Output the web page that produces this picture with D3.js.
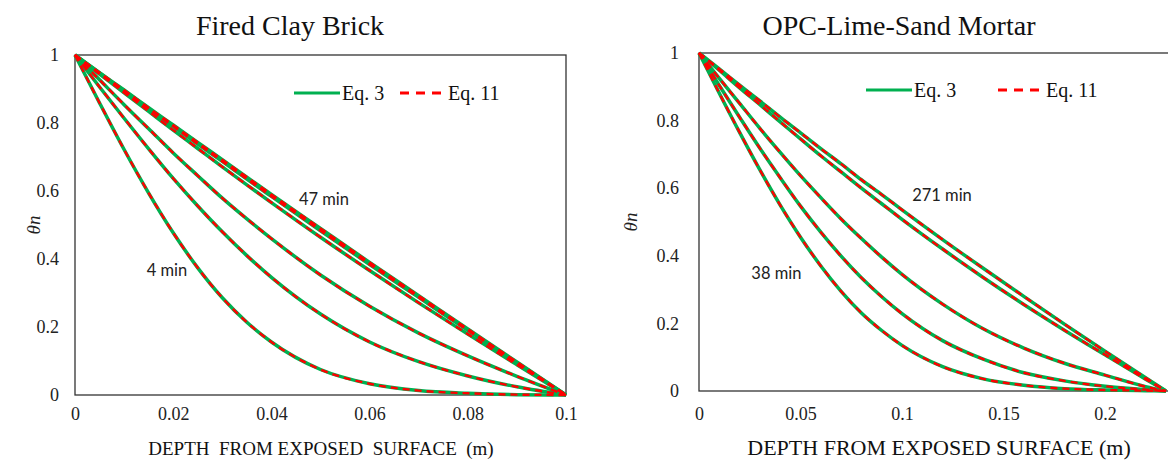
<!DOCTYPE html>
<meta charset="utf-8">
<style>
body { margin: 0; background: #fff; }
svg { display: block; }
</style>
<body>
<script src="https://cdn.jsdelivr.net/npm/d3@7/dist/d3.min.js"></script>
<script>

// Fired clay brick, depth (m) and theta_n for each time (Eq. 3 and Eq. 11 overlap)
var brickDepth = [0, 0.005, 0.01, 0.015, 0.02, 0.025, 0.03, 0.035, 0.04, 0.05, 0.06, 0.07, 0.08, 0.09, 0.1];
var brick4min  = [1, 0.859, 0.722, 0.594, 0.477, 0.374, 0.286, 0.214, 0.156, 0.075, 0.033, 0.013, 0.005, 0.001, 0];
var brickC2    = [1, 0.906, 0.814, 0.724, 0.637, 0.556, 0.480, 0.410, 0.346, 0.238, 0.156, 0.098, 0.056, 0.024, 0];
var brickC3    = [1, 0.927, 0.854, 0.783, 0.712, 0.645, 0.579, 0.518, 0.460, 0.353, 0.261, 0.182, 0.115, 0.055, 0];
var brickC4    = [1, 0.944, 0.889, 0.834, 0.779, 0.725, 0.671, 0.618, 0.566, 0.464, 0.366, 0.271, 0.179, 0.089, 0];
var brickC5    = [1, 0.947, 0.895, 0.842, 0.790, 0.738, 0.687, 0.635, 0.584, 0.483, 0.384, 0.287, 0.190, 0.095, 0];
var brick47min = [1, 0.948, 0.897, 0.845, 0.794, 0.743, 0.692, 0.641, 0.590, 0.490, 0.390, 0.292, 0.194, 0.097, 0];

// OPC-lime-sand mortar
var mortarDepth  = [0, 0.01, 0.02, 0.03, 0.04, 0.05, 0.06, 0.07, 0.08, 0.09, 0.1, 0.12, 0.14, 0.16, 0.18, 0.2, 0.22, 0.23];
var mortar38min  = [1, 0.881, 0.765, 0.654, 0.550, 0.455, 0.370, 0.295, 0.231, 0.179, 0.135, 0.072, 0.036, 0.017, 0.007, 0.003, 0.001, 0];
var mortarC2     = [1, 0.904, 0.810, 0.718, 0.631, 0.547, 0.470, 0.399, 0.335, 0.279, 0.229, 0.149, 0.094, 0.054, 0.030, 0.014, 0.004, 0];
var mortarC3     = [1, 0.925, 0.851, 0.777, 0.706, 0.637, 0.572, 0.509, 0.451, 0.396, 0.345, 0.257, 0.184, 0.127, 0.082, 0.047, 0.013, 0];
var mortarC4     = [1, 0.949, 0.897, 0.847, 0.796, 0.746, 0.696, 0.648, 0.600, 0.554, 0.508, 0.420, 0.336, 0.256, 0.180, 0.107, 0.035, 0];
var mortar271min = [1, 0.953, 0.905, 0.858, 0.810, 0.764, 0.717, 0.672, 0.625, 0.581, 0.536, 0.448, 0.363, 0.280, 0.198, 0.118, 0.039, 0];

var brickTicksX = [0, 0.02, 0.04, 0.06, 0.08, 0.1];
var mortarTicksX = [0, 0.05, 0.1, 0.15, 0.2];
var ticksY = [0, 0.2, 0.4, 0.6, 0.8, 1];

var green = "#00b050", red = "#ff0000";
var serif = "'Liberation Serif', 'Times New Roman', serif";

var svg = d3.select("body").append("svg")
    .attr("width", 1168)
    .attr("height", 462);

function fmt(d) { return String(+d.toFixed(3)); }

function drawPanel(p) {
  var x = d3.scaleLinear().domain(p.xDomain).range([p.left, p.right]);
  var y = d3.scaleLinear().domain([0, 1]).range([p.bottom, p.top]);
  var g = svg.append("g");

  g.append("text")
    .attr("x", p.titleX).attr("y", 35)
    .attr("text-anchor", "middle")
    .style("font-family", serif)
    .style("font-size", "28px")
    .attr("fill", "#111")
    .text(p.title);

  var xa = g.append("g")
    .attr("transform", "translate(0," + p.bottom + ")")
    .call(d3.axisBottom(x).tickValues(p.ticksX).tickFormat(fmt).tickSize(0).tickPadding(p.xPad));
  xa.select(".domain").remove();

  var ya = g.append("g")
    .attr("transform", "translate(" + p.left + ",0)")
    .call(d3.axisLeft(y).tickValues(ticksY).tickFormat(fmt).tickSize(0).tickPadding(p.yPad));
  ya.select(".domain").remove();

  g.selectAll(".tick text")
    .style("font-family", serif)
    .style("font-size", "18px")
    .attr("fill", "#222");

  g.append("rect")
    .attr("x", p.left).attr("y", p.top)
    .attr("width", p.right - p.left).attr("height", p.bottom - p.top)
    .attr("fill", "none").attr("stroke", "#333").attr("stroke-width", 1.3);

  var line = d3.line()
    .x(function(d) { return x(d[0]); })
    .y(function(d) { return y(d[1]); })
    .curve(d3.curveMonotoneX);

  p.series.forEach(function(vals) {
    var pts = p.depth.map(function(d, i) { return [d, vals[i]]; });
    g.append("path").datum(pts).attr("d", line)
      .attr("fill", "none").attr("stroke", green).attr("stroke-width", 3.5);
  });
  p.series.forEach(function(vals) {
    var pts = p.depth.map(function(d, i) { return [d, vals[i]]; });
    g.append("path").datum(pts).attr("d", line)
      .attr("fill", "none").attr("stroke", red).attr("stroke-width", 2.4)
      .attr("stroke-dasharray", "7,5");
  });

  // legend
  var lg = g.append("g").attr("transform", "translate(" + p.legX + "," + p.legY + ")");
  lg.append("line").attr("x1", 0).attr("x2", 46).attr("stroke", green).attr("stroke-width", 3);
  lg.append("text").attr("x", 48).attr("y", 7).text("Eq. 3")
    .style("font-family", serif).style("font-size", "20px").attr("fill", "#111");
  lg.append("line").attr("x1", p.legGap).attr("x2", p.legGap + 46)
    .attr("stroke", red).attr("stroke-width", 3).attr("stroke-dasharray", "9,7");
  lg.append("text").attr("x", p.legGap + 48).attr("y", 7).text("Eq. 11")
    .style("font-family", serif).style("font-size", "20px").attr("fill", "#111");

  // time labels
  p.labels.forEach(function(l) {
    g.append("text")
      .attr("x", x(l.x)).attr("y", y(l.y))
      .style("font-family", "Lato, sans-serif")
      .style("font-size", "16.5px")
      .attr("fill", "#222")
      .text(l.text);
  });

  // axis titles
  g.append("text")
    .attr("x", p.xtX).attr("y", 455)
    .attr("text-anchor", "middle")
    .style("font-family", serif)
    .style("font-size", p.xtSize + "px")
    .style("white-space", "pre")
    .attr("fill", "#111")
    .text(p.xTitle);

  g.append("text")
    .attr("transform", "translate(" + p.ytX + "," + p.ytY + ") rotate(-90)")
    .attr("text-anchor", "middle")
    .style("font-family", serif)
    .style("font-style", "italic")
    .style("font-size", "19px")
    .attr("fill", "#222")
    .text("θn");
}

drawPanel({
  title: "Fired Clay Brick", titleX: 290,
  left: 75, right: 566, top: 55, bottom: 395,
  xDomain: [0, 0.1], ticksX: brickTicksX, xPad: 12, yPad: 16,
  depth: brickDepth,
  series: [brick4min, brickC2, brickC3, brickC4, brickC5, brick47min],
  legX: 294, legY: 93, legGap: 106,
  labels: [{x: 0.0456, y: 0.56, text: "47 min"}, {x: 0.0146, y: 0.35, text: "4 min"}],
  xTitle: "DEPTH  FROM EXPOSED  SURFACE  (m)", xtSize: 19, xtX: 321,
  ytX: 40, ytY: 225
});

drawPanel({
  title: "OPC-Lime-Sand Mortar", titleX: 899,
  left: 699, right: 1206.5, top: 53, bottom: 391,
  xDomain: [0, 0.25], ticksX: mortarTicksX, xPad: 16, yPad: 20,
  depth: mortarDepth,
  series: [mortar38min, mortarC2, mortarC3, mortarC4, mortar271min],
  legX: 866, legY: 90, legGap: 132,
  labels: [{x: 0.1050, y: 0.562, text: "271 min"}, {x: 0.0258, y: 0.331, text: "38 min"}],
  xTitle: "DEPTH FROM EXPOSED SURFACE (m)", xtSize: 22, xtX: 939,
  ytX: 637, ytY: 222
});

</script>
</body>
